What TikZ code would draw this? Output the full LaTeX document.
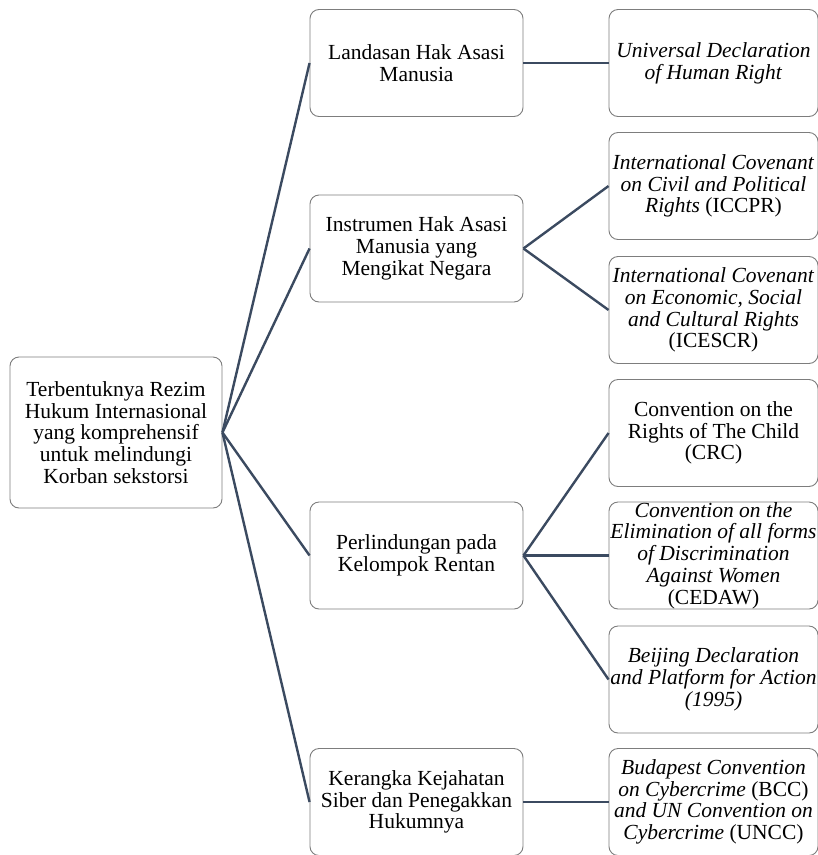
\documentclass[tikz,border=0pt]{standalone}
\usepackage{fontspec}
\setmainfont{Liberation Serif}
\usepackage{tikz}
\usetikzlibrary{positioning}

\definecolor{linkblue}{RGB}{59,74,96}
\definecolor{boxgray}{RGB}{125,125,125}

\tikzset{
  box/.style={draw=boxgray, line width=0.9pt, rounded corners=9pt,
              align=center, inner sep=0pt,
              font=\fontsize{21.5}{21.7}\selectfont},
  rootbox/.style={box, minimum width=212pt, minimum height=151pt},
  midbox/.style={box, minimum width=213pt, minimum height=107pt},
  leafbox/.style={box, minimum width=209pt, minimum height=107pt},
  link/.style={draw=linkblue, line width=2.4pt},
}

\begin{document}
\begin{tikzpicture}[x=1pt,y=-1pt]
\useasboundingbox (0,0) rectangle (818,855);

% root
\node[rootbox] (root) at (116,432.5) {Terbentuknya Rezim\\Hukum Internasional\\yang komprehensif\\untuk melindungi\\Korban sekstorsi};

% second level
\node[midbox] (landasan) at (416.5,63) {Landasan Hak Asasi\\Manusia};
\node[midbox] (instrumen) at (416.5,248.5) {Instrumen Hak Asasi\\Manusia yang\\Mengikat Negara};
\node[midbox] (rentan) at (416.5,555.5) {Perlindungan pada\\Kelompok Rentan};
\node[midbox] (siber) at (416.5,802) {Kerangka Kejahatan\\Siber dan Penegakkan\\Hukumnya};

% third level
\node[leafbox] (udhr) at (713.5,63) {\textit{Universal Declaration}\\\textit{of Human Right}};
\node[leafbox] (iccpr) at (713.5,186) {\textit{International Covenant}\\\textit{on Civil and Political}\\\textit{Rights} (ICCPR)};
\node[leafbox] (icescr) at (713.5,310) {\textit{International Covenant}\\\textit{on Economic, Social}\\\textit{and Cultural Rights}\\(ICESCR)};
\node[leafbox] (crc) at (713.5,433) {Convention on the\\Rights of The Child\\(CRC)};
\node[leafbox] (cedaw) at (713.5,555.5) {\textit{Convention on the}\\\textit{Elimination of all forms}\\\textit{of Discrimination}\\\textit{Against Women}\\(CEDAW)};
\node[leafbox] (beijing) at (713.5,679.5) {\textit{Beijing Declaration}\\\textit{and Platform for Action}\\\textit{(1995)}};
\node[leafbox] (bcc) at (713.5,802) {\textit{Budapest Convention}\\\textit{on Cybercrime} (BCC)\\\textit{and UN Convention on}\\\textit{Cybercrime} (UNCC)};

% connectors
\foreach \child in {landasan, instrumen, rentan, siber}
  \draw[link] (root.east) -- (\child.west);
\draw[link] (landasan.east) -- (udhr.west);
\draw[link] (instrumen.east) -- (iccpr.west);
\draw[link] (instrumen.east) -- (icescr.west);
\foreach \child in {crc, cedaw, beijing}
  \draw[link] (rentan.east) -- (\child.west);
\draw[link] (siber.east) -- (bcc.west);
\end{tikzpicture}
\end{document}
